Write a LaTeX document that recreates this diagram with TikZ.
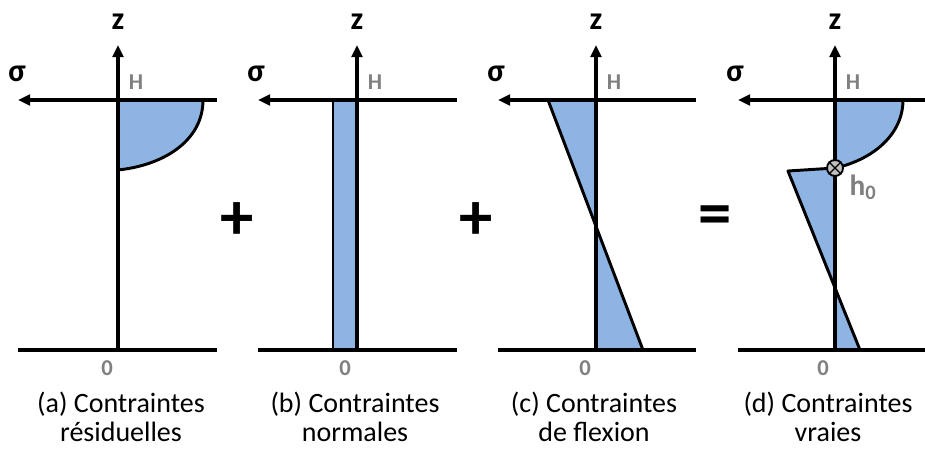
\documentclass[tikz,border=0pt]{standalone}
\usepackage{fontspec}
\setmainfont{Carlito}
\usetikzlibrary{arrows.meta}
\definecolor{stressblue}{HTML}{8EB4E3}
\definecolor{labelgray}{HTML}{808080}
\begin{document}
\begin{tikzpicture}[x=0.75pt,y=-0.75pt,
    axis/.style={line width=2.3pt,-{Triangle[length=9pt,width=8pt]}},
    ground/.style={line width=2.3pt},
    stress/.style={fill=stressblue,draw=black,line width=2.2pt,line join=round},
    axislabel/.style={font=\fontsize{24}{24}\selectfont\bfseries,inner sep=0pt},
    pointlabel/.style={font=\fontsize{17}{17}\selectfont\bfseries,text=labelgray,inner sep=0pt},
    caption/.style={font=\fontsize{21}{22}\selectfont,align=center,inner sep=0pt},
    operator/.style={font=\fontsize{50}{50}\selectfont\bfseries,inner sep=0pt},
    hzero/.style={circle,draw,fill=black!25,line width=1.4pt,minimum size=12pt,inner sep=0pt}]
    \useasboundingbox (0,0) rectangle (925,450);

    % (a) contraintes residuelles
    \coordinate (a-0) at (118,350);
    \coordinate (a-top) at (118,45);
    \coordinate (a-left) at (18,100);
    \coordinate (a-right) at (217,100);
    \coordinate (a-bl) at (18,350);
    \coordinate (a-br) at (217,350);
    \filldraw[stress] (118,100) -- (203,100) .. controls (203,140) and (165,165) .. (118,170) -- cycle;
    \draw[axis] (a-0) -- (a-top);
    \draw[axis] (a-right) -- (a-left);
    \draw[ground] (a-bl) -- (a-br);
    \node[axislabel] (a-z) at (118,22) {z};
    \node[axislabel] (a-s) at (17,74) {σ};
    \node[pointlabel] (a-H) at (136,82) {H};
    \node[pointlabel] (a-zero) at (107,368) {0};
    \node[caption] (a-cap) at (121,417) {(a) Contraintes\\résiduelles};

    % (b) contraintes normales
    \coordinate (b-0) at (357,350);
    \coordinate (b-top) at (357,45);
    \coordinate (b-left) at (258,100);
    \coordinate (b-right) at (457,100);
    \coordinate (b-bl) at (258,350);
    \coordinate (b-br) at (457,350);
    \filldraw[stress] (333,100) rectangle (357,350);
    \draw[axis] (b-0) -- (b-top);
    \draw[axis] (b-right) -- (b-left);
    \draw[ground] (b-bl) -- (b-br);
    \node[axislabel] (b-z) at (357,22) {z};
    \node[axislabel] (b-s) at (256,74) {σ};
    \node[pointlabel] (b-H) at (375,82) {H};
    \node[pointlabel] (b-zero) at (345,368) {0};
    \node[caption] (b-cap) at (355,417) {(b) Contraintes\\normales};

    % (c) contraintes de flexion
    \coordinate (c-0) at (596,350);
    \coordinate (c-top) at (596,45);
    \coordinate (c-left) at (498,100);
    \coordinate (c-right) at (696,100);
    \coordinate (c-bl) at (498,350);
    \coordinate (c-br) at (696,350);
    \filldraw[stress] (548,100) -- (596,100) -- (596,350) -- (643,350) -- cycle;
    \draw[axis] (c-0) -- (c-top);
    \draw[axis] (c-right) -- (c-left);
    \draw[ground] (c-bl) -- (c-br);
    \node[axislabel] (c-z) at (596,22) {z};
    \node[axislabel] (c-s) at (496,74) {σ};
    \node[pointlabel] (c-H) at (614,82) {H};
    \node[pointlabel] (c-zero) at (585,368) {0};
    \node[caption] (c-cap) at (594,417) {(c) Contraintes\\de flexion};

    % (d) contraintes vraies
    \coordinate (d-0) at (835,350);
    \coordinate (d-top) at (835,45);
    \coordinate (d-left) at (738,100);
    \coordinate (d-right) at (925,100);
    \coordinate (d-bl) at (738,350);
    \coordinate (d-br) at (925,350);
    \filldraw[stress] (835,100) -- (903,100) .. controls (903,135) and (872,160) .. (835,168) -- cycle;
    \filldraw[stress] (835,168) .. controls (812,169) .. (788,171) -- (860,350) -- (835,350) -- cycle;
    \draw[axis] (d-0) -- (d-top);
    \draw[axis] (d-right) -- (d-left);
    \draw[ground] (d-bl) -- (d-br);
    \node[hzero] (h0) at (835,168) {};
    \draw[line width=1pt] (h0.north west) -- (h0.south east);
    \draw[line width=1pt] (h0.north east) -- (h0.south west);
    \node[axislabel] (d-z) at (835,22) {z};
    \node[axislabel] (d-s) at (735,74) {σ};
    \node[pointlabel] (d-H) at (853,82) {H};
    \node[pointlabel] (d-zero) at (823,368) {0};
    \node[pointlabel,font=\fontsize{22}{22}\selectfont\bfseries] (h0-lab) at (863,187) {h\textsubscript{0}};
    \node[caption] (d-cap) at (828,417) {(d) Contraintes\\vraies};

    % operateurs
    \node[operator] (plus1) at (237,221) {+};
    \node[operator] (plus2) at (476,221) {+};
    \node[operator] (equal) at (715,221) {=};
\end{tikzpicture}
\end{document}
